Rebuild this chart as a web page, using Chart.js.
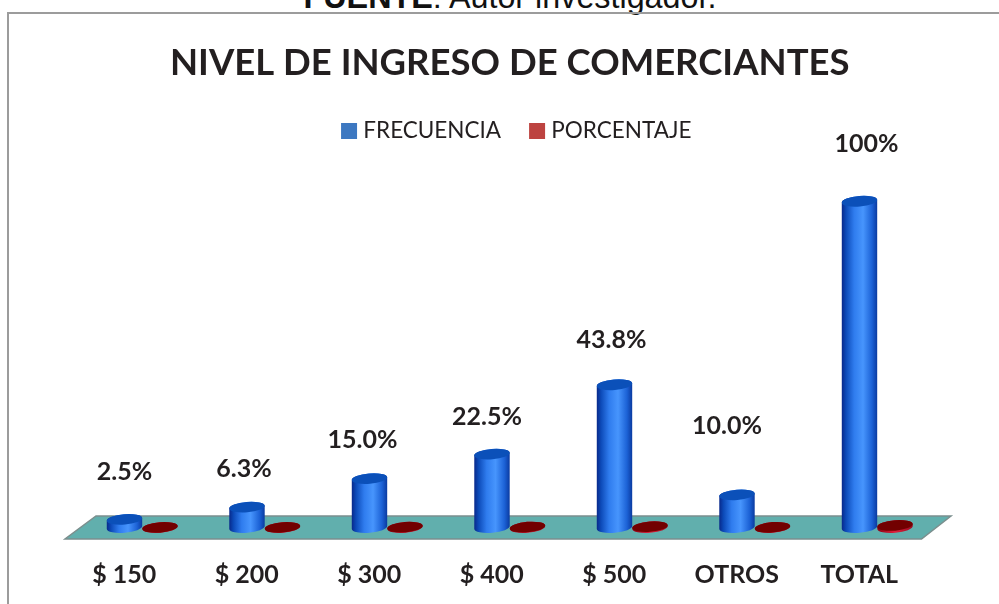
<!DOCTYPE html>
<html lang="es">
<head>
<meta charset="utf-8">
<title>Nivel de ingreso de comerciantes</title>
<script src="https://cdn.jsdelivr.net/npm/chart.js@4"></script>
<style>
  html, body { margin: 0; padding: 0; background: #fff; overflow: hidden; }
  #page { position: relative; width: 999px; height: 604px; overflow: hidden; }
  #source {
    position: absolute; left: 21px; right: 0; top: -21px; text-align: center;
    font: 32.3px "Liberation Sans", sans-serif; color: #111; white-space: nowrap;
  }
  #frame {
    position: absolute; left: 7px; top: 12px; width: 1100px; height: 700px;
    border-left: 2px solid #9c9c9c; border-top: 2px solid #9c9c9c;
  }
  #chart { position: absolute; left: 0; top: 0; }
</style>
</head>
<body>
<div id="page">
  <div id="source"><b>FUENTE</b>: Autor investigador.</div>
  <div id="frame"></div>
  <canvas id="chart" width="999" height="604"></canvas>
</div>
<script>
const categories = ['$ 150', '$ 200', '$ 300', '$ 400', '$ 500', 'OTROS', 'TOTAL'];
const frecuencia = [4, 10, 24, 36, 70, 16, 160];
const porcentaje = [0.025, 0.063, 0.15, 0.225, 0.438, 0.1, 1];
const percentLabels = ['2.5%', '6.3%', '15.0%', '22.5%', '43.8%', '10.0%', '100%'];

const BLUE = '#3d78c1';
const RED = '#bd4340';
const TEXT = '#231f20';
const FONT = 'Lato, sans-serif';

// hand-placed data labels in the original: offset from the top of each blue bar
const labelOffsets = [[0, -47], [-3, -38], [-7, -39], [-5, -37], [-3, -45], [-10, -69], [7, -57]];

const cylinderColors = {
    [BLUE]: {
        top: '#0b50b9',
        stops: [[0, '#08288a'], [0.12, '#0c4ab8'], [0.35, '#2f7cee'], [0.6, '#4795fd'], [0.85, '#1c62d6'], [1, '#0a3aa0']]
    },
    [RED]: {
        top: '#720000',
        stops: [[0, '#8a0014'], [0.5, '#e0203c'], [1, '#9a0a20']]
    }
};

// bars are drawn as tilted cylinders like the 3D chart in the reference
Chart.BarElement.prototype.draw = function (ctx) {
    const { x, y, base, width } = this;
    const colors = cylinderColors[this.options.backgroundColor];
    const rx = width / 2;
    const ry = 5.2;
    const tilt = -0.08;

    const gradient = ctx.createLinearGradient(x - rx, 0, x + rx, 0);
    colors.stops.forEach(s => gradient.addColorStop(s[0], s[1]));

    ctx.save();
    ctx.beginPath();
    ctx.ellipse(x, base, rx, ry, tilt, 0, Math.PI, false);
    ctx.ellipse(x, y, rx, ry, tilt, Math.PI, 0, false);
    ctx.closePath();
    ctx.fillStyle = gradient;
    ctx.fill();

    ctx.beginPath();
    ctx.ellipse(x, y, rx, ry, tilt, 0, Math.PI * 2);
    ctx.fillStyle = colors.top;
    ctx.fill();
    ctx.restore();
};

const floorPlugin = {
    id: 'floor',
    beforeDatasetsDraw(chart) {
        const { left, right, bottom } = chart.chartArea;
        const ctx = chart.ctx;
        ctx.save();
        ctx.beginPath();
        ctx.moveTo(left - 16, bottom + 11.5);
        ctx.lineTo(right - 17, bottom + 11.5);
        ctx.lineTo(right + 12.5, bottom - 11.5);
        ctx.lineTo(left + 15, bottom - 11.5);
        ctx.closePath();
        ctx.fillStyle = '#61afad';
        ctx.fill();
        ctx.lineWidth = 1.5;
        ctx.strokeStyle = '#7b8f8e';
        ctx.stroke();
        ctx.restore();
    }
};

const percentLabelPlugin = {
    id: 'percentLabels',
    afterDatasetsDraw(chart) {
        const ctx = chart.ctx;
        const bars = chart.getDatasetMeta(0).data;
        ctx.save();
        ctx.font = 'bold 25px ' + FONT;
        ctx.fillStyle = TEXT;
        ctx.textAlign = 'center';
        ctx.textBaseline = 'middle';
        bars.forEach((bar, i) => {
            ctx.fillText(percentLabels[i], bar.x + labelOffsets[i][0], bar.y + labelOffsets[i][1]);
        });
        ctx.restore();
    }
};

// the legend sits a little right of the title in the reference
const legendShiftPlugin = {
    id: 'legendShift',
    afterLayout(chart) {
        chart.legend.left += 9;
        chart.legend.right += 9;
    }
};

new Chart(document.getElementById('chart'), {
    type: 'bar',
    data: {
        labels: categories,
        datasets: [
            // border only thickens the legend swatch so its text sits closer, the bars ignore it
            { label: 'FRECUENCIA', data: frecuencia, backgroundColor: BLUE, borderColor: BLUE, borderWidth: 10, clip: false },
            { label: 'PORCENTAJE', data: porcentaje, backgroundColor: RED, borderColor: RED, borderWidth: 10, clip: false }
        ]
    },
    plugins: [floorPlugin, percentLabelPlugin, legendShiftPlugin],
    options: {
        responsive: false,
        animation: false,
        events: [],
        categoryPercentage: 0.58,
        barPercentage: 1,
        layout: { padding: { left: 81, right: 60.5, top: 0, bottom: 0 } },
        plugins: {
            tooltip: { enabled: false },
            title: {
                display: true,
                text: 'NIVEL DE INGRESO DE COMERCIANTES',
                color: TEXT,
                font: { family: FONT, size: 36.5, weight: 'bold' },
                padding: { top: 41, bottom: 2 }
            },
            legend: {
                position: 'top',
                labels: {
                    color: TEXT,
                    font: { family: FONT, size: 22.5 },
                    boxWidth: 6,
                    boxHeight: 6,
                    padding: 33
                }
            }
        },
        scales: {
            x: {
                grid: { display: false },
                border: { display: false },
                afterFit(scale) { scale.height = 76.5; },
                ticks: {
                    color: TEXT,
                    font: { family: FONT, size: 25, weight: 'bold' },
                    labelOffset: -18,
                    padding: 24,
                    maxRotation: 0
                }
            },
            y: { display: false, min: 0, max: 184 }
        }
    }
});
</script>
</body>
</html>
